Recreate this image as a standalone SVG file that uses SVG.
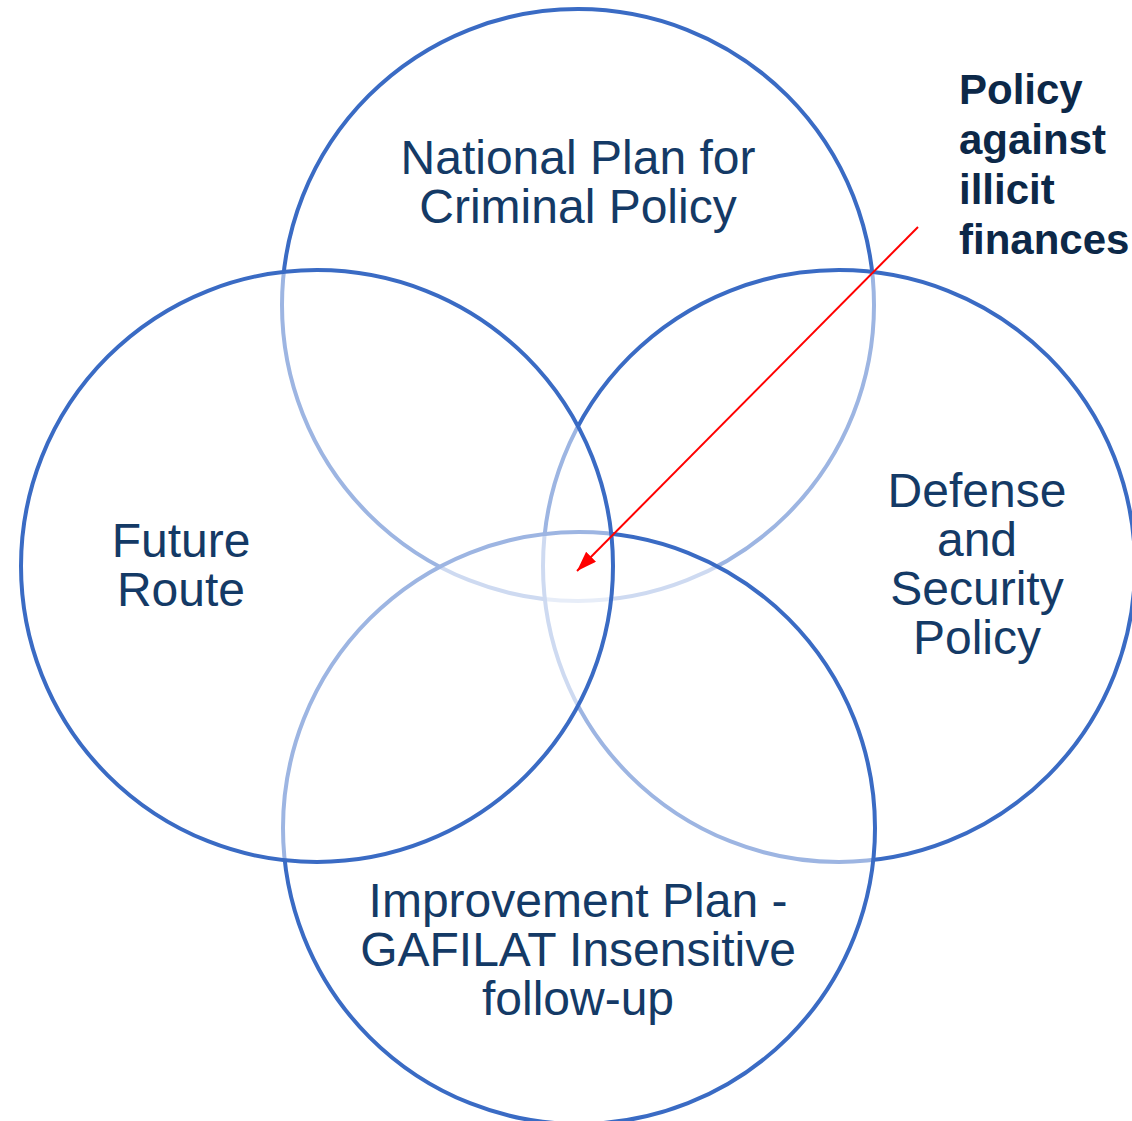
<svg xmlns="http://www.w3.org/2000/svg" width="1132" height="1121" viewBox="0 0 1132 1121">
  <style>
    .ring { fill: #ffffff; fill-opacity: 0.5; stroke: #3A6BC4; stroke-width: 4; }
    .lbl { font-family: "Liberation Sans", Arial, sans-serif; font-size: 48px; fill: #143A66; text-anchor: middle; }
    .note { font-family: "Liberation Sans", Arial, sans-serif; font-size: 42px; font-weight: bold; fill: #0C2848; }
  </style>
  <defs>
    <marker id="arrow" markerUnits="userSpaceOnUse" markerWidth="22" markerHeight="16" refX="20" refY="7" orient="auto">
      <path d="M0,0 L20,7 L0,14 Z" fill="#FF0000"/>
    </marker>
  </defs>
  <rect width="1132" height="1121" fill="#ffffff"/>
  <g id="node-national-plan">
    <circle class="ring" cx="578" cy="305" r="296"/>
  </g>
  <g id="node-defense">
    <circle class="ring" cx="839" cy="566" r="296"/>
  </g>
  <g id="node-improvement">
    <circle class="ring" cx="579" cy="828" r="296"/>
  </g>
  <g id="node-future">
    <circle class="ring" cx="317" cy="566" r="296"/>
  </g>
  <g id="labels">
    <text class="lbl" x="578" y="174">National Plan for</text>
    <text class="lbl" x="578" y="223">Criminal Policy</text>
    <text class="lbl" x="181" y="557">Future</text>
    <text class="lbl" x="181" y="606">Route</text>
    <text class="lbl" x="977" y="507">Defense</text>
    <text class="lbl" x="977" y="556">and</text>
    <text class="lbl" x="977" y="605">Security</text>
    <text class="lbl" x="977" y="654">Policy</text>
    <text class="lbl" x="578" y="917">Improvement Plan -</text>
    <text class="lbl" x="578" y="966">GAFILAT Insensitive</text>
    <text class="lbl" x="578" y="1015">follow-up</text>
  </g>
  <g id="node-policy-illicit">
    <text class="note" x="959" y="104">Policy</text>
    <text class="note" x="959" y="154">against</text>
    <text class="note" x="959" y="204">illicit</text>
    <text class="note" x="959" y="254">finances</text>
  </g>
  <g id="connectors">
    <line x1="918" y1="227" x2="577" y2="571" stroke="#FF0000" stroke-width="2" marker-end="url(#arrow)"/>
  </g>
</svg>
